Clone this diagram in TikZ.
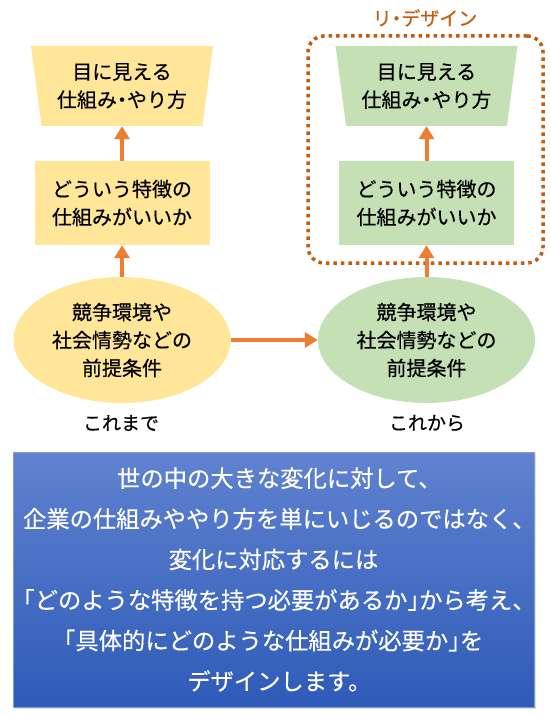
\documentclass[tikz,border=0pt]{standalone}
\usepackage{fontspec}
\setmainfont{Noto Sans CJK JP}[RawFeature=+halt, FakeBold=0.4]
\usetikzlibrary{shapes.geometric,arrows.meta,shadows}
\definecolor{ylw}{HTML}{FFE699}
\definecolor{grn}{HTML}{C5E0B4}
\definecolor{org}{HTML}{ED7D31}
\definecolor{dorg}{HTML}{C55A11}
\definecolor{bluetop}{RGB}{96,130,208}
\definecolor{bluebot}{RGB}{46,91,184}
\tikzset{
  nodetext/.style={align=center, font=\fontsize{20}{28}\selectfont, text=black, inner sep=0pt},
  trapbox/.style={nodetext, trapezium, trapezium angle=77, trapezium stretches body,
    shape border rotate=180, minimum width=182pt, minimum height=80pt},
  rectbox/.style={nodetext, rectangle, minimum width=175pt, minimum height=84pt},
  ellbox/.style={nodetext, ellipse, minimum width=217pt, minimum height=126pt},
  arr/.style={draw=org, line width=4pt, -{Triangle[width=15pt,length=13pt]}},
  caption/.style={font=\fontsize{19}{24}\selectfont, text=black, inner sep=0pt},
}
\begin{document}
\begin{tikzpicture}[x=1pt,y=-1pt]
\useasboundingbox (0,0) rectangle (550,714);
% left column
\node[trapbox, fill=ylw] (t1) at (122,86) {目に見える\\仕組み・やり方};
\node[rectbox, fill=ylw] (r1) at (122,203) {どういう特徴の\\仕組みがいいか};
\node[ellbox, fill=ylw] (e1) at (122,340) {競争環境や\\社会情勢などの\\前提条件};
\node[caption] (c1) at (121,423) {これまで};
% right column
\node[trapbox, fill=grn] (t2) at (426.5,86) {目に見える\\仕組み・やり方};
\node[rectbox, fill=grn] (r2) at (426.5,203) {どういう特徴の\\仕組みがいいか};
\node[ellbox, fill=grn] (e2) at (426.5,340) {競争環境や\\社会情勢などの\\前提条件};
\node[caption] (c2) at (427,423) {これから};
% redesign frame
\node[draw=dorg, line width=3.5pt, dash pattern=on 3.5pt off 4pt, rounded corners=16pt,
      minimum width=235pt, minimum height=227pt, inner sep=0pt] (rd) at (425.5,149.5) {};
\node[font=\fontsize{19}{22}\selectfont, text=dorg, inner sep=0pt] (rdl) at (425,18) {リ・デザイン};
% arrows
\draw[arr] (r1) -- (t1);
\draw[arr] (e1) -- (r1);
\draw[arr] (r2) -- (t2);
\draw[arr] (e2) -- (r2);
\draw[arr] (e1) -- (e2);
% bottom message box
\node[rectangle, minimum width=521pt, minimum height=255pt, inner sep=0pt,
      top color=bluetop, bottom color=bluebot, draw=bluetop!80!white, line width=0.5pt,
      drop shadow={opacity=0.25, shadow xshift=2pt, shadow yshift=-2pt},
      align=center, text=white, font=\fontsize{23.3}{40.6}\selectfont] (msg) at (273.5,579.5)
  {世の中の大きな変化に対して、\\企業の仕組みややり方を単にいじるのではなく、\\変化に対応するには\\「どのような特徴を持つ必要があるか」から考え、\\「具体的にどのような仕組みが必要か」を\\デザインします。};
\end{tikzpicture}
\end{document}
